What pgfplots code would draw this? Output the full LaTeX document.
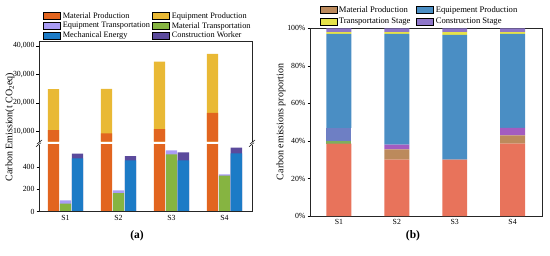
\documentclass[border=0pt]{standalone}
\usepackage{fontspec}
\setmainfont{Liberation Serif}
\usepackage{pgfplots}
\pgfplotsset{compat=1.18}

\definecolor{cOrange}{HTML}{E2651F}
\definecolor{cYellow}{HTML}{E9B935}
\definecolor{cLav}{HTML}{A99CF5}
\definecolor{cGreen}{HTML}{86B441}
\definecolor{cBlue}{HTML}{1C7BC6}
\definecolor{cPurple}{HTML}{5B4A9C}
\definecolor{cSalmon}{HTML}{E8735B}
\definecolor{cTan}{HTML}{BC8A5C}
\definecolor{cBlueB}{HTML}{4A8EC4}
\definecolor{cYellowB}{HTML}{E6E24A}
\definecolor{cPurpleB}{HTML}{8E76C8}
\definecolor{cMidPurple}{HTML}{A35CC0}
\definecolor{cMidBlue}{HTML}{6E7FC4}
\definecolor{cGreenB}{HTML}{7DAE5E}

\pgfplotsset{
  base/.style={
    scale only axis, anchor=south west,
    xmin=0.5, xmax=4.52,
    ticklabel style={font=\fontsize{7.8}{9}\selectfont},
    /pgf/number format/assume math mode=true,
    tick align=inside, major tick length=2.5pt,
    xtick pos=left, ytick pos=left,
    y tick style={xshift=-2.5pt},
    yticklabel style={xshift=-1pt},
    tick style={black, line width=0.5pt},
  },
  lpatch/.style={legend image code/.code={\fill[##1] (0pt,-3.5pt) rectangle (17pt,3.5pt);}},
}

\begin{document}
\begin{tikzpicture}

% ---------- (a) upper part ----------
\begin{axis}[base, at={(39pt,113.3pt)}, width=213pt, height=100.7pt,
  ymin=6340, ymax=41760, ytick={10000,20000,30000,40000},
  scaled y ticks=false, /pgf/number format/1000 sep={,},
  xtick=\empty, axis line style={draw=none},
  legend style={draw=none, fill=none, font=\fontsize{8.3}{9.4}\selectfont,
    legend columns=2, anchor=north west, at={(0.02,1.305)}, inner sep=0pt,
    row sep=-1.5pt, /tikz/every even column/.append style={column sep=0.5pt}},
  legend cell align=left]
\addlegendimage{lpatch, fill=cOrange}
\addlegendimage{lpatch, fill=cYellow}
\addlegendimage{lpatch, fill=cLav}
\addlegendimage{lpatch, fill=cGreen}
\addlegendimage{lpatch, fill=cBlue}
\addlegendimage{lpatch, fill=cPurple}
\addplot[ybar, bar width=0.215, bar shift=-0.226, fill=cYellow, draw=none] coordinates {(1,24800) (2,24900) (3,34500) (4,37200)};
\addplot[ybar, bar width=0.215, bar shift=-0.226, fill=cOrange, draw=none] coordinates {(1,10400) (2,9300) (3,10800) (4,16500)};
\legend{Material Production, Equipment Production, Equipment Transportation, Material Transportation, Mechanical Energy, Construction Worker}
\end{axis}

% ---------- (a) lower part ----------
\begin{axis}[base, at={(39pt,43.5pt)}, width=213pt, height=66.5pt,
  ymin=0, ymax=595, ytick={0,200,400},
  xtick={1,2,3,4}, xticklabels={S1,S2,S3,S4},
  axis line style={draw=none}]
\addplot[ybar, bar width=0.215, bar shift=-0.226, fill=cOrange, draw=none] coordinates {(1,10400) (2,9300) (3,10800) (4,16500)};
\addplot[ybar, bar width=0.215, bar shift=0, fill=cLav, draw=none] coordinates {(1,100) (2,190) (3,548) (4,332)};
\addplot[ybar, bar width=0.215, bar shift=0, fill=cGreen, draw=none] coordinates {(1,70) (2,165) (3,510) (4,320)};
\addplot[ybar, bar width=0.215, bar shift=0.226, fill=cPurple, draw=none] coordinates {(1,518) (2,496) (3,530) (4,572)};
\addplot[ybar, bar width=0.215, bar shift=0.226, fill=cBlue, draw=none] coordinates {(1,475) (2,458) (3,458) (4,520)};
\end{axis}

% frame and break marks of (a)
\draw[line width=0.6pt, black!85] (39pt,110pt) -- (39pt,43.5pt) -- (252pt,43.5pt) -- (252pt,110pt);
\draw[line width=0.6pt, black!85] (39pt,113.3pt) -- (39pt,214pt) -- (252pt,214pt) -- (252pt,113.3pt);
\foreach \xx in {39,252}{
  \draw[line width=0.5pt] (\xx pt-3pt,108.3pt) -- (\xx pt+2pt,112.3pt);
  \draw[line width=0.5pt] (\xx pt-2pt,111.0pt) -- (\xx pt+3pt,115.0pt);
}
\node[rotate=90, font=\fontsize{10}{11}\selectfont] at (10pt,128pt) {Carbon Emission(t CO\textsubscript{2}eq)};
\node[font=\fontsize{11.5}{12}\selectfont\bfseries] at (137pt,19pt) {(a)};

% ---------- (b) ----------
\begin{axis}[base, at={(310pt,39pt)}, width=232.7pt, height=187.7pt,
  ymin=0, ymax=100, ytick={0,20,40,60,80,100},
  yticklabel={\pgfmathprintnumber{\tick}\%},
  xtick={1,2,3,4}, xticklabels={S1,S2,S3,S4},
  axis line style={line width=0.6pt, black!85},
  ybar stacked, bar width=0.43,
  legend style={draw=none, fill=none, font=\fontsize{8.6}{9.6}\selectfont,
    legend columns=2, anchor=north west, at={(0.04,1.13)}, inner sep=0pt,
    row sep=0.3pt, /tikz/every even column/.append style={column sep=4pt}},
  legend cell align=left]
\addlegendimage{lpatch, fill=cTan}
\addlegendimage{lpatch, fill=cBlueB}
\addlegendimage{lpatch, fill=cYellowB}
\addlegendimage{lpatch, fill=cPurpleB}
\addplot[fill=cSalmon, draw=none] coordinates {(1,38.5) (2,30) (3,30) (4,38.5)};
\addplot[fill=cGreenB, draw=none] coordinates {(1,1.5) (2,0) (3,0) (4,0)};
\addplot[fill=cTan, draw=none] coordinates {(1,0) (2,5.5) (3,0) (4,4.5)};
\addplot[fill=cMidBlue, draw=none] coordinates {(1,7) (2,0) (3,0) (4,0)};
\addplot[fill=cMidPurple, draw=none] coordinates {(1,0) (2,2.5) (3,0) (4,4)};
\addplot[fill=cBlueB, draw=none] coordinates {(1,50) (2,59) (3,66.5) (4,50)};
\addplot[fill=cYellowB, draw=none] coordinates {(1,1) (2,1) (3,1.5) (4,1)};
\addplot[fill=cPurpleB, draw=none] coordinates {(1,2) (2,2) (3,2) (4,2)};
\legend{Material Production, Equipement Production, Transportation Stage, Construction Stage}
\end{axis}
\node[rotate=90, font=\fontsize{10}{11}\selectfont] at (281pt,133pt) {Carbon emissions proportion};
\node[font=\fontsize{11.5}{12}\selectfont\bfseries] at (413pt,19pt) {(b)};

\pgfresetboundingbox
\path[use as bounding box] (0pt,0pt) rectangle (550pt,255pt);
\end{tikzpicture}
\end{document}
